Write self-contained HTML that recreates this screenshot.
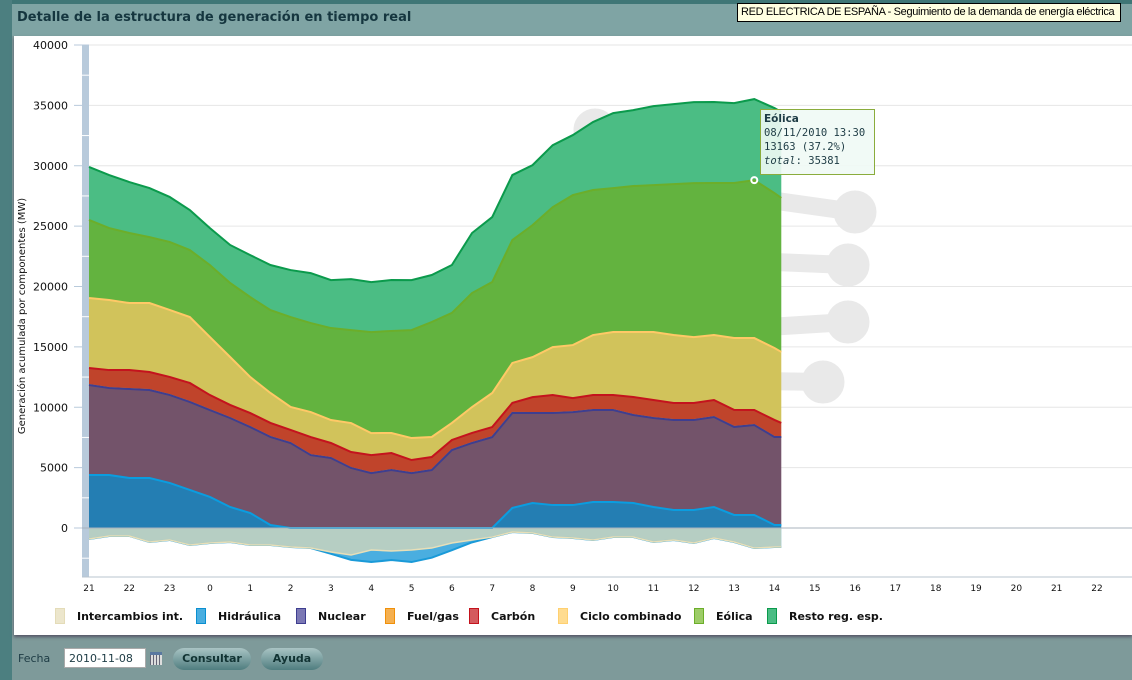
<!DOCTYPE html>
<html><head><meta charset="utf-8">
<style>
body{margin:0;width:1132px;height:680px;overflow:hidden;background:#7e9a9a;font-family:"Liberation Sans","DejaVu Sans",sans-serif;position:relative}
.abs{position:absolute}
</style></head><body>
<div class="abs" style="left:0;top:0;width:1132px;height:4px;background:#3f7676"></div>
<div class="abs" style="left:0;top:0;width:12px;height:680px;background:#4c7f80"></div>
<div class="abs" style="left:12px;top:4px;width:1120px;height:32px;background:#7fa4a4"></div>
<div class="abs" style="left:17px;top:10px;font-size:13px;font-weight:bold;color:#15363f;font-family:'DejaVu Sans',sans-serif">Detalle de la estructura de generación en tiempo real</div>
<div class="abs" style="left:14px;top:36px;width:1118px;height:599px;background:#fff;box-shadow:0 2px 3px #556"></div>
<svg class="abs" style="left:0;top:0" width="1132" height="680" id="chart"></svg>
<div class="abs" style="left:737px;top:3px;width:379px;height:17px;background:#ffffe1;border:1px solid #000;font-size:11px;line-height:17px;padding-left:3px;color:#000;white-space:nowrap;overflow:hidden;letter-spacing:-0.35px;font-family:'Liberation Sans',sans-serif">RED ELECTRICA DE ESPAÑA - Seguimiento de la demanda de energía eléctrica</div>
<div class="abs" style="left:760px;top:109px;width:115px;height:66px;border:1.5px solid #8aac3c;background:rgba(240,250,245,0.9);font-family:'DejaVu Sans Mono',monospace;font-size:10.5px;line-height:14px;color:#1d3b44;padding:2px 0 0 3px;box-sizing:border-box;white-space:nowrap"><b style="font-family:'DejaVu Sans',sans-serif">Eólica</b><br>08/11/2010 13:30<br>13163 (37.2%)<br><i>total</i>: 35381</div>
<div class="abs" style="left:18px;top:652px;font-size:11px;color:#1d3b44;font-family:'DejaVu Sans',sans-serif">Fecha</div>
<div class="abs" style="left:64px;top:648px;width:82px;height:20px;background:#fff;border:1px solid #aaa;font-family:'DejaVu Sans',sans-serif;font-size:11px;line-height:20px;padding-left:4px;box-sizing:border-box;color:#1d3b44">2010-11-08</div>
<div class="abs" style="left:150px;top:652px;width:12px;height:13px;background:repeating-linear-gradient(90deg,#667 0 1px,#ddd 1px 3px),#ddd;border-top:3px solid #5a78a0;box-sizing:border-box"></div>
<div class="abs" style="left:173px;top:648px;width:78px;height:22px;border-radius:11px;background:linear-gradient(#a9c4c4,#4f7d7f);font-family:'DejaVu Sans',sans-serif;font-size:11px;font-weight:bold;color:#133;text-align:center;line-height:22px">Consultar</div>
<div class="abs" style="left:261px;top:648px;width:62px;height:22px;border-radius:11px;background:linear-gradient(#a9c4c4,#4f7d7f);font-family:'DejaVu Sans',sans-serif;font-size:11px;font-weight:bold;color:#133;text-align:center;line-height:22px">Ayuda</div>
<script>
const hours = [0,0.5,1,1.5,2,2.5,3,3.5,4,4.5,5,5.5,6,6.5,7,7.5,8,8.5,9,9.5,10,10.5,11,11.5,12,12.5,13,13.5,14,14.5,15,15.5,16,16.5,17,17.17];
const intercambios = [-910,-660,-660,-1160,-990,-1410,-1240,-1160,-1410,-1410,-1570,-1660,-1990,-2240,-1820,-1900,-1820,-1660,-1240,-990,-750,-330,-410,-750,-830,-990,-750,-750,-1160,-990,-1240,-830,-1160,-1660,-1570,-1570];
const hidraulica = [4390,4390,4140,4140,3730,3150,2570,1740,1240,250,0,0,-150,-400,-1000,-750,-1000,-800,-600,-200,0,1660,2070,1900,1900,2150,2150,2070,1740,1490,1490,1740,1080,1080,250,250];
const nuclear = [7450,7200,7370,7290,7290,7290,7200,7370,7120,7290,7040,6040,5800,4970,4550,4800,4550,4800,6460,7040,7530,7870,7450,7620,7700,7620,7620,7290,7370,7450,7450,7450,7290,7450,7290,7290];
const fuelgas = [0,0,0,0,0,0,0,0,0,0,0,0,0,0,0,0,0,0,0,0,0,0,0,0,0,0,0,0,0,0,0,0,0,0,0,0];
const carbon = [1410,1490,1570,1490,1490,1570,1240,1080,1160,1160,1080,1490,1240,1320,1490,1410,1080,1080,830,830,830,830,1320,1490,1160,1240,1240,1490,1490,1410,1410,1410,1410,1240,1410,1160];
const ciclo = [5800,5800,5550,5710,5550,5460,4800,3970,2980,2480,1900,2070,1900,2400,1820,1660,1820,1660,1410,2150,2820,3310,3310,3970,4390,4970,5220,5380,5630,5630,5460,5380,5960,5960,5960,5880];
const eolica = [6460,5960,5800,5460,5630,5550,5960,6130,6620,6870,7450,7370,7620,7700,8360,8450,8940,9520,9110,9440,9190,10180,10930,11590,12420,12010,11920,12090,12170,12500,12750,12590,12830,13080,12830,12750];
const resto = [4390,4390,4220,4060,3730,3310,3060,3150,3480,3730,3890,4140,3970,4220,4140,4220,4140,3890,3970,4970,5380,5380,4970,5130,4970,5630,6210,6290,6540,6620,6710,6710,6620,6710,7040,7120];
const yTicks = [0,5000,10000,15000,20000,25000,30000,35000,40000];
const xLabels = ["21","22","23","0","1","2","3","4","5","6","7","8","9","10","11","12","13","14","15","16","17","18","19","20","21","22"];
const legendNames = ["Intercambios int.","Hidráulica","Nuclear","Fuel/gas","Carbón","Ciclo combinado","Eólica","Resto reg. esp."];

const NS="http://www.w3.org/2000/svg";
const svg=document.getElementById('chart');
const X=h=>89+h*40.32;
const Y=v=>528-v*483/40000;
function el(tag,attrs,parent){const e=document.createElementNS(NS,tag);for(const k in attrs)e.setAttribute(k,attrs[k]);(parent||svg).appendChild(e);return e;}

yTicks.forEach(t=>{
  const g=el('line',{x1:82,x2:1132,y1:Y(t),y2:Y(t),stroke:t===0?'#a9b3bd':'#e6e6e6','stroke-width':1});
  
  
  const tx=el('text',{x:68,y:Y(t)+4,'text-anchor':'end','font-size':11,fill:'#111','font-family':'DejaVu Sans, sans-serif'});
  tx.textContent=t;
  
  
  const tk=el('line',{x1:74,x2:89,y1:Y(t),y2:Y(t),stroke:'#b8cadb'});
  
  
});
const axb=el('rect',{x:82,y:45,width:7,height:532,fill:'#b8cadb'});


[2500,7500,12500,17500,22500,27500,32500,37500,-2500].forEach(t=>{el('line',{x1:82,x2:89,y1:Y(t),y2:Y(t),stroke:'#fff'});});
const xa=el('line',{x1:82,x2:1132,y1:577,y2:577,stroke:'#b8c4cf'});


xLabels.forEach((l,i)=>{
  const t=el('text',{x:X(i),y:591,'text-anchor':'middle','font-size':9,fill:'#111','font-family':'DejaVu Sans, sans-serif'});
  t.textContent=l;
  
  
});
const yt=el('text',{x:0,y:0,'font-size':10,fill:'#111','text-anchor':'middle','font-family':'DejaVu Sans, sans-serif',transform:'translate(25,316) rotate(-90)'});
yt.textContent='Generación acumulada por componentes (MW)';



const wm=el('g',{fill:'#e9e9e9',stroke:'#e9e9e9'});


[[595,130],[670,230],[855,212],[848,265],[848,322],[823,382],[520,210],[600,255]].forEach(p=>el('circle',{cx:p[0],cy:p[1],r:21},wm));
el('path',{d:'M595 130 L770 200 L855 212 M600 255 L848 265 M560 340 L848 322 M700 380 L823 382','stroke-width':18,fill:'none'},wm);

function area(lo,hi,fill,line,name){
  let d='M'+hours.map((h,i)=>X(h)+' '+Y(hi[i])).join(' L');
  for(let i=hours.length-1;i>=0;i--)d+=' L'+X(hours[i])+' '+Y(lo[i]);
  const p=el('path',{d:d+'Z',fill:fill});
  
  
  if(line){const l=el('path',{d:'M'+hours.map((h,i)=>X(h)+' '+Y(hi[i])).join(' L'),fill:'none',stroke:line,'stroke-width':2});
  
  }
}
const zero=hours.map(()=>0);
const hPos=hidraulica.map(v=>Math.max(v,0));
const hNeg=hidraulica.map((v,i)=>intercambios[i]+Math.min(v,0));
area(zero,hNeg,'#4aaee0','#1a9ad8','hidraulica-negative');
area(zero,intercambios,'rgba(228,219,182,0.7)',null,'intercambios');
el('path',{d:'M'+hours.map((h,i)=>X(h)+' '+Y(intercambios[i])).join(' L'),fill:'none',stroke:'#e8dfb8','stroke-width':1.5});
let c1=hPos;
let c2=c1.map((v,i)=>v+nuclear[i]);
let c3=c2.map((v,i)=>v+fuelgas[i]);
let c4=c3.map((v,i)=>v+carbon[i]);
let c5=c4.map((v,i)=>v+ciclo[i]);
let c6=c5.map((v,i)=>v+eolica[i]);
let c7=c6.map((v,i)=>v+resto[i]);
area(c6,c7,'#4bbd84','#0b9a4c','resto');
area(c5,c6,'#63b33f','#6cae2a','eolica');
area(c4,c5,'#d1c35b','#ffc966','ciclo-combinado');
area(c3,c4,'#c0442b','#c4131d','carbon');
area(c2,c3,'#f0a030','#f0a030','fuel-gas');
area(c1,c2,'#73536a','#3e3e90','nuclear');
area(zero,c1,'#247eb3','#0a9de0','hidraulica');
el('line',{x1:82,x2:1132,y1:528,y2:528,stroke:'#a9b3bd'});
const mk=el('circle',{cx:X(16.5),cy:Y(c6[33]),r:3,fill:'none',stroke:'#fff','stroke-width':2});



const lx=[55,196,296,385,469,558,694,767];
const lf=['#ece6cc','#4aaee0','#7b78b4','#f5b050','#d45a5e','#ffdc90','#9dcc68','#4bbd84'];
const ls=['#e4dcb8','#0a8fd0','#3e3e90','#f0900a','#c4131d','#ffd070','#6cae2a','#0b9a4c'];
legendNames.forEach((n,i)=>{
  const g=el('g',{});
  
  
  el('rect',{x:lx[i]+0.5,y:608.5,width:9,height:15,fill:lf[i],stroke:ls[i]},g);
  const t=el('text',{x:lx[i]+22,y:620,'font-size':11,'font-weight':'bold',fill:'#111','font-family':'DejaVu Sans, sans-serif'},g);
  t.textContent=n;
});
</script>
</body></html>
